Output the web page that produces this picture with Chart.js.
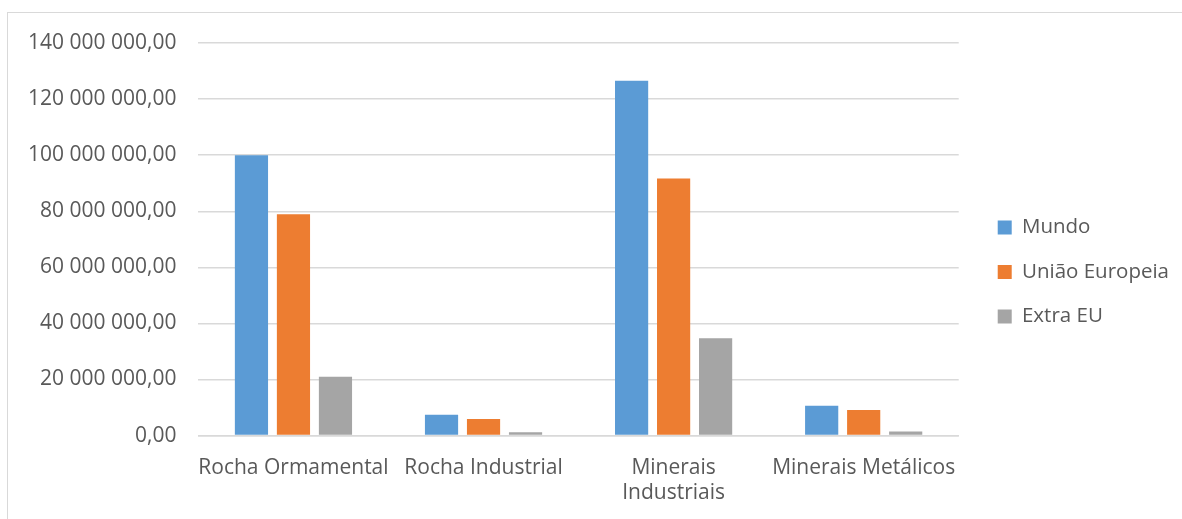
<!DOCTYPE html>
<html>
<head>
<meta charset="utf-8">
<script src="https://cdn.jsdelivr.net/npm/chart.js@4.4.1/dist/chart.umd.min.js"></script>
<style>
  html, body { margin: 0; padding: 0; background: #fff; }
  #wrap { position: relative; width: 1182px; height: 519px; }
  #frame { position: absolute; left: 7px; top: 12px; width: 1180px; height: 520px; border: 1.5px solid #d9d9d9; box-sizing: border-box; pointer-events: none; }
  canvas { position: absolute; left: 0; top: 0; }
</style>
</head>
<body>
<div id="wrap">
  <div id="frame"></div>
  <canvas id="c" width="1182" height="519"></canvas>
</div>
<script>
const categories = ["Rocha Ormamental", "Rocha Industrial", ["Minerais", "Industriais"], "Minerais Metálicos"];
const mundo = [100000000, 7400000, 126500000, 10600000];
const uniaoEuropeia = [78900000, 5900000, 91700000, 9100000];
const extraEU = [21000000, 1200000, 34700000, 1500000];
const seriesNames = ["Mundo", "União Europeia", "Extra EU"];
const seriesColors = ["#5b9bd5", "#ed7d31", "#a5a5a5"];
const yTicks = [0, 20000000, 40000000, 60000000, 80000000, 100000000, 120000000, 140000000];

function fmt(v) {
  const s = Math.round(v).toString().replace(/\B(?=(\d{3})+(?!\d))/g, " ");
  return s + ",00";
}

const FONT = "'Open Sans', sans-serif";
const TXT = "#595959";

const legendShift = {
  id: "legendShift",
  afterLayout(chart) {
    const lg = chart.legend;
    if (!lg) return;
    lg.left += 15; lg.right += 15;
    lg.top -= 7.5; lg.bottom -= 7.5;
  }
};

new Chart(document.getElementById("c"), {
  type: "bar",
  data: {
    labels: categories,
    datasets: [mundo, uniaoEuropeia, extraEU].map((d, i) => ({
      label: seriesNames[i],
      data: d,
      backgroundColor: seriesColors[i],
      borderWidth: 0,
      categoryPercentage: 0.663,
      barPercentage: 0.79
    }))
  },
  plugins: [legendShift],
  options: {
    responsive: false,
    animation: false,
    layout: { padding: { top: 43, left: 6, right: 18, bottom: 3 } },
    plugins: {
      tooltip: { enabled: false },
      legend: {
        position: "right",
        labels: {
          boxWidth: 14,
          boxHeight: 14,
          padding: 24,
          color: TXT,
          font: { family: FONT, size: 20.5 }
        }
      }
    },
    scales: {
      x: {
        afterFit: (axis) => { axis.height -= 10; },
        grid: { display: false, drawTicks: false },
        border: { color: "#d9d9d9", width: 1.5 },
        ticks: { color: TXT, font: { family: FONT, size: 21 }, padding: 20, maxRotation: 0, autoSkip: false }
      },
      y: {
        min: 0,
        max: 140000000,
        afterBuildTicks: (axis) => { axis.ticks = yTicks.map(v => ({ value: v })); },
        grid: { color: "#d9d9d9", lineWidth: 1.5, drawTicks: false },
        border: { display: false },
        ticks: { color: TXT, font: { family: FONT, size: 21 }, padding: 22, callback: (v) => fmt(v) }
      }
    }
  }
});
</script>
</body>
</html>
